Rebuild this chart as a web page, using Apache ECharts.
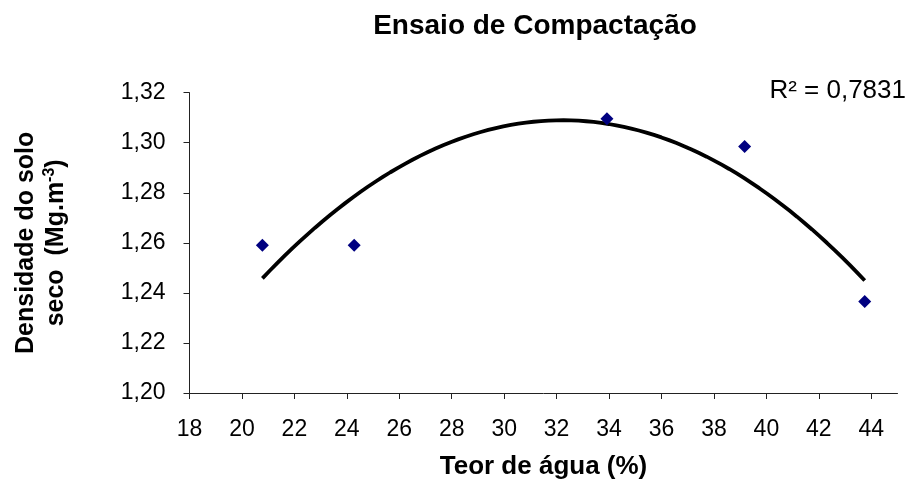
<!DOCTYPE html>
<html>
<head>
<meta charset="utf-8">
<script src="https://cdn.jsdelivr.net/npm/echarts@6/dist/echarts.min.js"></script>
<style>html,body{margin:0;padding:0;background:#fff}#c{width:909px;height:485px}</style>
</head>
<body>
<div id="c"></div>
<script>
// Data
const waterContent = [20.78, 24.28, 33.92, 39.17, 43.75];      // Teor de água (%)
const dryDensity   = [1.259, 1.259, 1.3096, 1.2985, 1.2366];   // Densidade do solo seco (Mg.m-3)
const xTicks = [18, 20, 22, 24, 26, 28, 30, 32, 34, 36, 38, 40, 42, 44];
const yTicks = [1.20, 1.22, 1.24, 1.26, 1.28, 1.30, 1.32];
const titleText = 'Ensaio de Compactação';
const r2Text = 'R² = 0,7831';

// Polynomial (order 2) trendline: least-squares fit of the data, as the spreadsheet trendline
function quadFit(xs, ys) {
  let n = xs.length, s = [0,0,0,0,0], t = [0,0,0];
  for (let i = 0; i < n; i++) {
    let p = 1;
    for (let k = 0; k < 5; k++) { s[k] += p; if (k < 3) t[k] += p * ys[i]; p *= xs[i]; }
  }
  const M = [[s[0], s[1], s[2], t[0]], [s[1], s[2], s[3], t[1]], [s[2], s[3], s[4], t[2]]];
  for (let i = 0; i < 3; i++) {
    for (let j = i + 1; j < 3; j++) {
      const f = M[j][i] / M[i][i];
      for (let k = i; k < 4; k++) M[j][k] -= f * M[i][k];
    }
  }
  const c = [0,0,0];
  for (let i = 2; i >= 0; i--) {
    let v = M[i][3];
    for (let k = i + 1; k < 3; k++) v -= M[i][k] * c[k];
    c[i] = v / M[i][i];
  }
  return c;
}
const coef = quadFit(waterContent, dryDensity);
const xMinD = Math.min(...waterContent), xMaxD = Math.max(...waterContent);
const trend = [];
for (let i = 0; i <= 80; i++) {
  const x = xMinD + (xMaxD - xMinD) * i / 80;
  trend.push([x, coef[0] + coef[1] * x + coef[2] * x * x]);
}

const chart = echarts.init(document.getElementById('c'), null, {renderer: 'canvas'});
const FONT = 'Liberation Sans, Arial, sans-serif';
chart.setOption({
  animation: false,
  backgroundColor: '#fff',
  title: {
    text: titleText,
    left: 530, top: 7, textAlign: 'center',
    textStyle: {fontFamily: FONT, fontSize: 28, fontWeight: 'bold', color: '#000'}
  },
  graphic: [{
    type: 'text', right: 3, top: 78,
    style: {text: r2Text, font: '26px ' + FONT, fill: '#000'}
  }],
  grid: {left: 189.5, right: 11.5, top: 92.7, bottom: 90.7, containLabel: false},
  xAxis: {
    type: 'value', min: 18, max: 45, interval: 2,
    name: 'Teor de água (%)', nameLocation: 'middle', nameGap: 61,
    nameTextStyle: {fontFamily: FONT, fontSize: 26, fontWeight: 'bold', color: '#000'},
    axisLine: {show: true, onZero: false, lineStyle: {color: '#222', width: 1}},
    axisTick: {show: true, length: 6, inside: false, customValues: xTicks, lineStyle: {color: '#222'}},
    axisLabel: {customValues: xTicks, margin: 25, fontFamily: FONT, fontSize: 23, color: '#000'},
    splitLine: {show: false}
  },
  yAxis: {
    type: 'value', min: 1.20, max: 1.32, interval: 0.02,
    name: 'Densidade do solo\nseco  (Mg.m{sup|-3})',
    nameLocation: 'middle', nameRotate: 90, nameGap: 118,
    nameTextStyle: {
      fontFamily: FONT, fontSize: 25, fontWeight: 'bold', color: '#000', lineHeight: 30, align: 'center',
      rich: {sup: {fontFamily: FONT, fontSize: 16, fontWeight: 'bold', verticalAlign: 'top', lineHeight: 30, padding: [0, 0, 10, 0]}}
    },
    axisLine: {show: true, lineStyle: {color: '#222', width: 1}},
    axisTick: {show: true, length: 6, inside: false, customValues: yTicks, lineStyle: {color: '#222'}},
    axisLabel: {
      customValues: yTicks, margin: 24, fontFamily: FONT, fontSize: 23, color: '#000',
      formatter: v => v.toFixed(2).replace('.', ',')
    },
    splitLine: {show: false}
  },
  series: [
    {
      type: 'line', data: trend, showSymbol: false, smooth: false, z: 2,
      lineStyle: {color: '#000', width: 3.8}
    },
    {
      type: 'scatter', data: waterContent.map((x, i) => [x, dryDensity[i]]), z: 3,
      symbol: 'diamond', symbolSize: 13, itemStyle: {color: '#000080', opacity: 1}
    }
  ]
});
</script>
</body>
</html>
